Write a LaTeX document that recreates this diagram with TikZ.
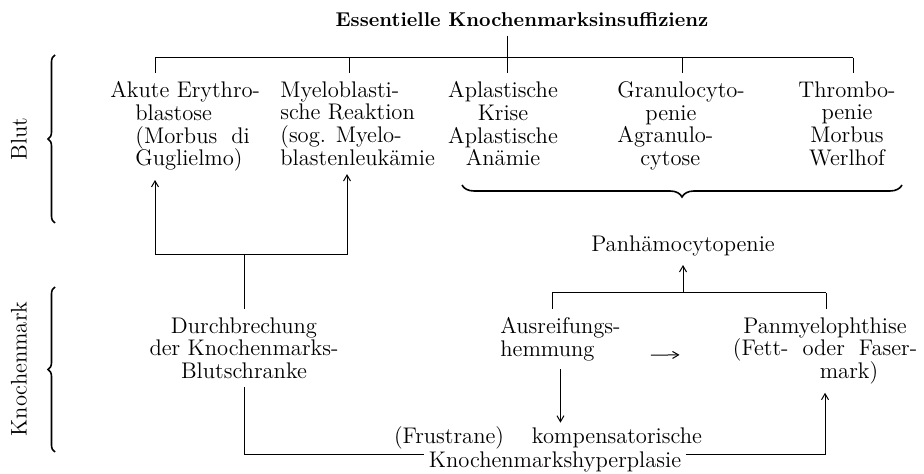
\documentclass[tikz,border=0pt]{standalone}
\usepackage{tikz}
\usetikzlibrary{arrows.meta,decorations.pathreplacing,calc}
\tikzset{
  lbl/.style={font=\fontsize{11.3}{11.4}\selectfont, inner sep=4pt},
  lblc/.style={lbl, align=center},
  lbll/.style={lbl, align=left},
  side/.style={lbl, rotate=90},
  ttl/.style={font=\fontsize{10}{12}\selectfont\bfseries, inner sep=4pt},
  ln/.style={line width=0.5pt},
  arr/.style={ln, -{Straight Barb[length=3pt,width=3.5pt]}},
  brc/.style={line width=0.8pt, decorate, decoration={brace, amplitude=#1}},
  brc/.default=3.5pt,
}

\begin{document}
\begin{tikzpicture}[x=0.5pt, y=-0.5pt]
  \useasboundingbox (0,0) rectangle (924,474);

  \node[ttl, anchor=base] (title) at (522,27) {Essentielle Knochenmarksinsuffizienz};

  \node[lbll, anchor=north west] (akute) at (102,73)
        {Akute Erythro-\\\hspace*{12.5pt}blastose\\
         \hspace*{12.5pt}(Morbus\hspace{7pt}di\\\hspace*{12.5pt}Guglielmo)};
  \node[lbll, anchor=north west] (myelo) at (272,73)
        {Myeloblasti-\\sche Reaktion\\(sog. Myelo-\\blastenleukämie};
  \node[lblc, anchor=north] (aplast) at (503,73)
        {Aplastische\\Krise\\Aplastische\\Anämie};
  \node[lbll, anchor=north west] (granulo) at (609,73)
        {Granulocyto-\\\hspace*{14pt}penie\\Agranulo-\\\hspace*{11.5pt}cytose};
  \node[lblc, anchor=north] (thrombo) at (847,73)
        {Thrombo-\\penie\\Morbus\\Werlhof};

  \node[side] (blut) at (19,139) {Blut};
  \node[side] (kmark) at (19,369) {Knochenmark};

  \node[lblc, anchor=base] (panh) at (683,252) {Panhämocytopenie};
  \node[lblc, anchor=north] (durch) at (244,309)
        {Durchbrechung\\der Knochenmarks-\\Blutschranke};
  \node[lbll, anchor=north west] (ausr) at (492,309) {Ausreifungs-\\hemmung};
  \node[lblc, anchor=north] (panm) at (825,309)
        {Panmyelophthise\\(Fett-\hspace{7pt}oder\hspace{7pt}Faser-\\\hspace*{24pt}mark)};
  \node[lbl, inner sep=2pt, anchor=base] (komp1) at (548,444)
        {(Frustrane)\hspace{14pt}kompensatorische};
  \node[lbl, inner sep=2pt, anchor=base] (komp2) at (555,467)
        {Knochenmarkshyperplasie};

  % braces
  \draw[brc] (55,223) -- (55,55);
  \draw[brc] (55,452) -- (55,287);
  \draw[brc=6pt] (902,185) -- (462,185);

  % top bus
  \coordinate (busL) at (155,58);
  \coordinate (busR) at (853,58);
  \draw[ln] (busL) -- (busR);
  \draw[ln] (title.south -| 507,0) -- (507,58);
  \foreach \n/\x in {akute/155,myelo/349,aplast/507,granulo/682,thrombo/853}
    \draw[ln] (\x,58) -- (\n.north -| \x,0);

  % left branch
  \coordinate (jL) at (155,255);
  \coordinate (jR) at (347,255);
  \draw[ln] (jL) -- (jR);
  \draw[arr] (jL) -- (jL |- akute.south);
  \draw[arr] (jR) -- (jR |- myelo.south);
  \draw[ln] (durch.north) -- (durch.north |- jL);
  \draw[ln] (durch.south) |- (komp1.south -| komp2.west);

  % right branch
  \coordinate (pL) at (552,293);
  \coordinate (pR) at (826,293);
  \draw[ln] (pL) -- (pR);
  \draw[ln] (ausr.north -| pL) -- (pL);
  \draw[ln] (panm.north -| pR) -- (pR);
  \draw[arr] (panh.south |- pL) -- (panh.south);
  \draw[arr] (ausr.south) -- (ausr.south |- komp1.north);
  \draw[arr] ([xshift=11pt,yshift=-8pt]ausr.east) -- ([xshift=-22.5pt,yshift=-2pt]panm.west);
  \draw[arr] (komp1.south -| komp2.east) -| (panm.south);
\end{tikzpicture}
\end{document}
